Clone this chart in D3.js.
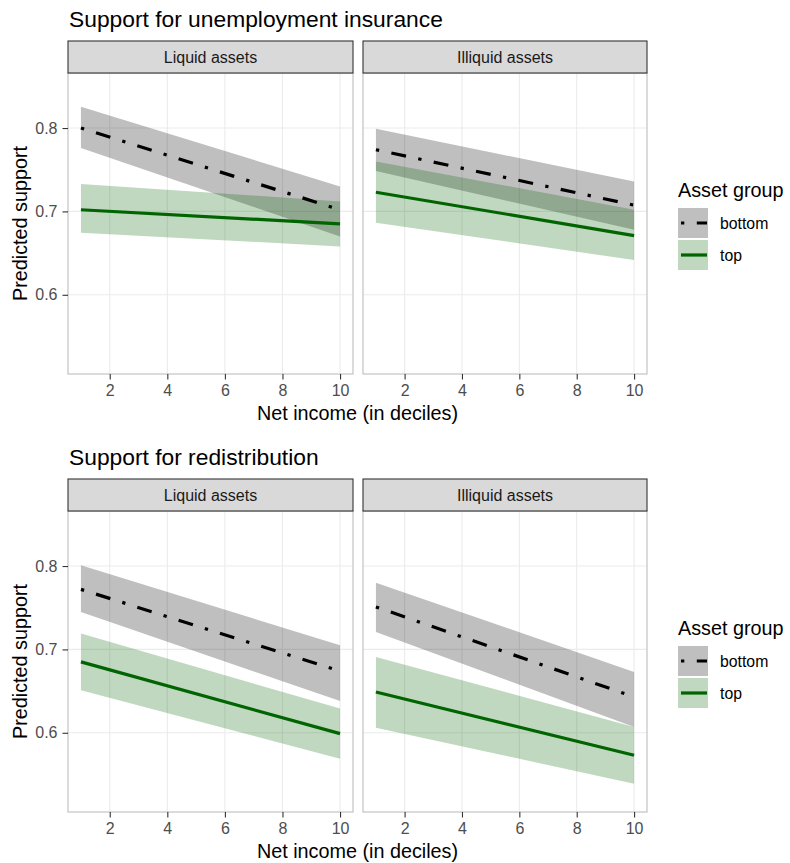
<!DOCTYPE html>
<html>
<head>
<meta charset="utf-8">
<script src="https://cdn.jsdelivr.net/npm/d3@7"></script>
<style>
  body { margin: 0; background: #fff; }
  text { font-family: "Liberation Sans", Arial, Helvetica, sans-serif; }
</style>
</head>
<body>
<div id="chart"></div>
<script>
// Data: predicted support at deciles 1 and 10
const deciles = [1, 10];
const xTicks = [2, 4, 6, 8, 10];
const yTicks = [0.6, 0.7, 0.8];
const facets = ["Liquid assets", "Illiquid assets"];
const groups = ["bottom", "top"];
const plotTitles = ["Support for unemployment insurance", "Support for redistribution"];

const uiLiquid = [
  { group: "bottom", fit: [0.800, 0.702], lower: [0.776, 0.670], upper: [0.8255, 0.730] },
  { group: "top",    fit: [0.702, 0.685], lower: [0.6745, 0.658], upper: [0.733, 0.712] }
];
const uiIlliquid = [
  { group: "bottom", fit: [0.774, 0.7075], lower: [0.7485, 0.678], upper: [0.799, 0.736] },
  { group: "top",    fit: [0.723, 0.671], lower: [0.6865, 0.6417], upper: [0.760, 0.702] }
];
const redisLiquid = [
  { group: "bottom", fit: [0.772, 0.674], lower: [0.745, 0.638], upper: [0.8008, 0.705] },
  { group: "top",    fit: [0.685, 0.599], lower: [0.651, 0.569], upper: [0.719, 0.629] }
];
const redisIlliquid = [
  { group: "bottom", fit: [0.751, 0.643], lower: [0.721, 0.607], upper: [0.780, 0.673] },
  { group: "top",    fit: [0.649, 0.573], lower: [0.606, 0.539], upper: [0.691, 0.607] }
];

const plots = [
  { title: plotTitles[0], panels: [uiLiquid, uiIlliquid] },
  { title: plotTitles[1], panels: [redisLiquid, redisIlliquid] }
];

const width = 790, height = 863;
const panelX = [[68, 353], [363, 647]];
const stripTop = 41, panelTop = 73, panelBottom = 374;
const plotOffset = 438;

const color = { bottom: "#000000", top: "#006400" };
const dash = { bottom: "3.3,12.5,15,12.5", top: null };

const svg = d3.select("#chart").append("svg")
  .attr("width", width)
  .attr("height", height);

plots.forEach((p, pi) => {
  const g = svg.append("g").attr("transform", `translate(0,${pi * plotOffset})`);

  const y = d3.scaleLinear().domain([0.505, 0.866]).range([panelBottom, panelTop]);

  // Title
  g.append("text")
    .attr("x", 69).attr("y", 27)
    .attr("font-size", 22.8)
    .attr("fill", "#000")
    .text(p.title);

  p.panels.forEach((rows, fi) => {
    const [x0, x1] = panelX[fi];
    const x = d3.scaleLinear().domain([0.55, 10.45]).range([x0, x1]);

    // Grid
    g.append("g").selectAll("line").data(xTicks).join("line")
      .attr("x1", d => x(d)).attr("x2", d => x(d))
      .attr("y1", panelTop).attr("y2", panelBottom)
      .attr("stroke", "#ebebeb").attr("stroke-width", 1.1);
    g.append("g").selectAll("line").data(yTicks).join("line")
      .attr("x1", x0).attr("x2", x1)
      .attr("y1", d => y(d)).attr("y2", d => y(d))
      .attr("stroke", "#ebebeb").attr("stroke-width", 1.1);

    // Ribbons
    const area = d3.area()
      .x((d, i) => x(deciles[i]))
      .y0(d => d[0])
      .y1(d => d[1]);
    rows.forEach(r => {
      const pts = deciles.map((d, i) => [y(r.lower[i]), y(r.upper[i])]);
      g.append("path")
        .attr("d", area(pts))
        .attr("fill", color[r.group])
        .attr("fill-opacity", 0.25);
    });

    // Lines
    const line = d3.line()
      .x((d, i) => x(deciles[i]))
      .y(d => y(d));
    rows.forEach(r => {
      g.append("path")
        .attr("d", line(r.fit))
        .attr("fill", "none")
        .attr("stroke", color[r.group])
        .attr("stroke-width", 3.2)
        .attr("stroke-dasharray", dash[r.group])
        .attr("stroke-linecap", "butt");
    });

    // Panel border
    g.append("rect")
      .attr("x", x0).attr("y", panelTop)
      .attr("width", x1 - x0).attr("height", panelBottom - panelTop)
      .attr("fill", "none").attr("stroke", "#bdbdbd").attr("stroke-width", 1.1);

    // Strip
    g.append("rect")
      .attr("x", x0).attr("y", stripTop)
      .attr("width", x1 - x0).attr("height", panelTop - stripTop)
      .attr("fill", "#d9d9d9").attr("stroke", "#333333").attr("stroke-width", 1.1);
    g.append("text")
      .attr("x", (x0 + x1) / 2).attr("y", (stripTop + panelTop) / 2)
      .attr("dy", "0.35em")
      .attr("text-anchor", "middle")
      .attr("font-size", 16)
      .attr("fill", "#1a1a1a")
      .text(facets[fi]);

    // X axis
    const xAxis = g.append("g")
      .attr("transform", `translate(0,${panelBottom})`)
      .call(d3.axisBottom(x).tickValues(xTicks).tickSize(5.5).tickPadding(5));
    xAxis.select(".domain").remove();
    xAxis.selectAll(".tick line").attr("stroke", "#333333").attr("stroke-width", 1.1);
    xAxis.selectAll(".tick text")
      .attr("font-size", 16).attr("fill", "#4d4d4d")
      .attr("font-family", null);

    // Y axis on the left panel only
    if (fi === 0) {
      const yAxis = g.append("g")
        .attr("transform", `translate(${x0},0)`)
        .call(d3.axisLeft(y).tickValues(yTicks).tickFormat(d3.format(".1f")).tickSize(5.5).tickPadding(5));
      yAxis.select(".domain").remove();
      yAxis.selectAll(".tick line").attr("stroke", "#333333").attr("stroke-width", 1.1);
      yAxis.selectAll(".tick text")
        .attr("font-size", 16).attr("fill", "#4d4d4d")
        .attr("font-family", null);
    }
  });

  // Axis titles
  g.append("text")
    .attr("x", (panelX[0][0] + panelX[1][1]) / 2).attr("y", 420)
    .attr("text-anchor", "middle")
    .attr("font-size", 19.8)
    .text("Net income (in deciles)");
  g.append("text")
    .attr("transform", `translate(27,${(panelTop + panelBottom) / 2}) rotate(-90)`)
    .attr("text-anchor", "middle")
    .attr("font-size", 19.8)
    .text("Predicted support");

  // Legend
  const lg = g.append("g").attr("transform", "translate(678,0)");
  lg.append("text")
    .attr("x", 0).attr("y", 197)
    .attr("font-size", 19.8)
    .text("Asset group");
  groups.forEach((grp, i) => {
    const ky = 208 + i * 32;
    lg.append("rect")
      .attr("x", 0).attr("y", ky).attr("width", 30).attr("height", 30)
      .attr("fill", color[grp]).attr("fill-opacity", 0.25);
    lg.append("line")
      .attr("x1", 3).attr("x2", 29)
      .attr("y1", ky + 15).attr("y2", ky + 15)
      .attr("stroke", color[grp])
      .attr("stroke-width", 3.2)
      .attr("stroke-dasharray", dash[grp]);
    lg.append("text")
      .attr("x", 42).attr("y", ky + 15)
      .attr("dy", "0.35em")
      .attr("font-size", 15.8)
      .text(grp);
  });
});
</script>
</body>
</html>
